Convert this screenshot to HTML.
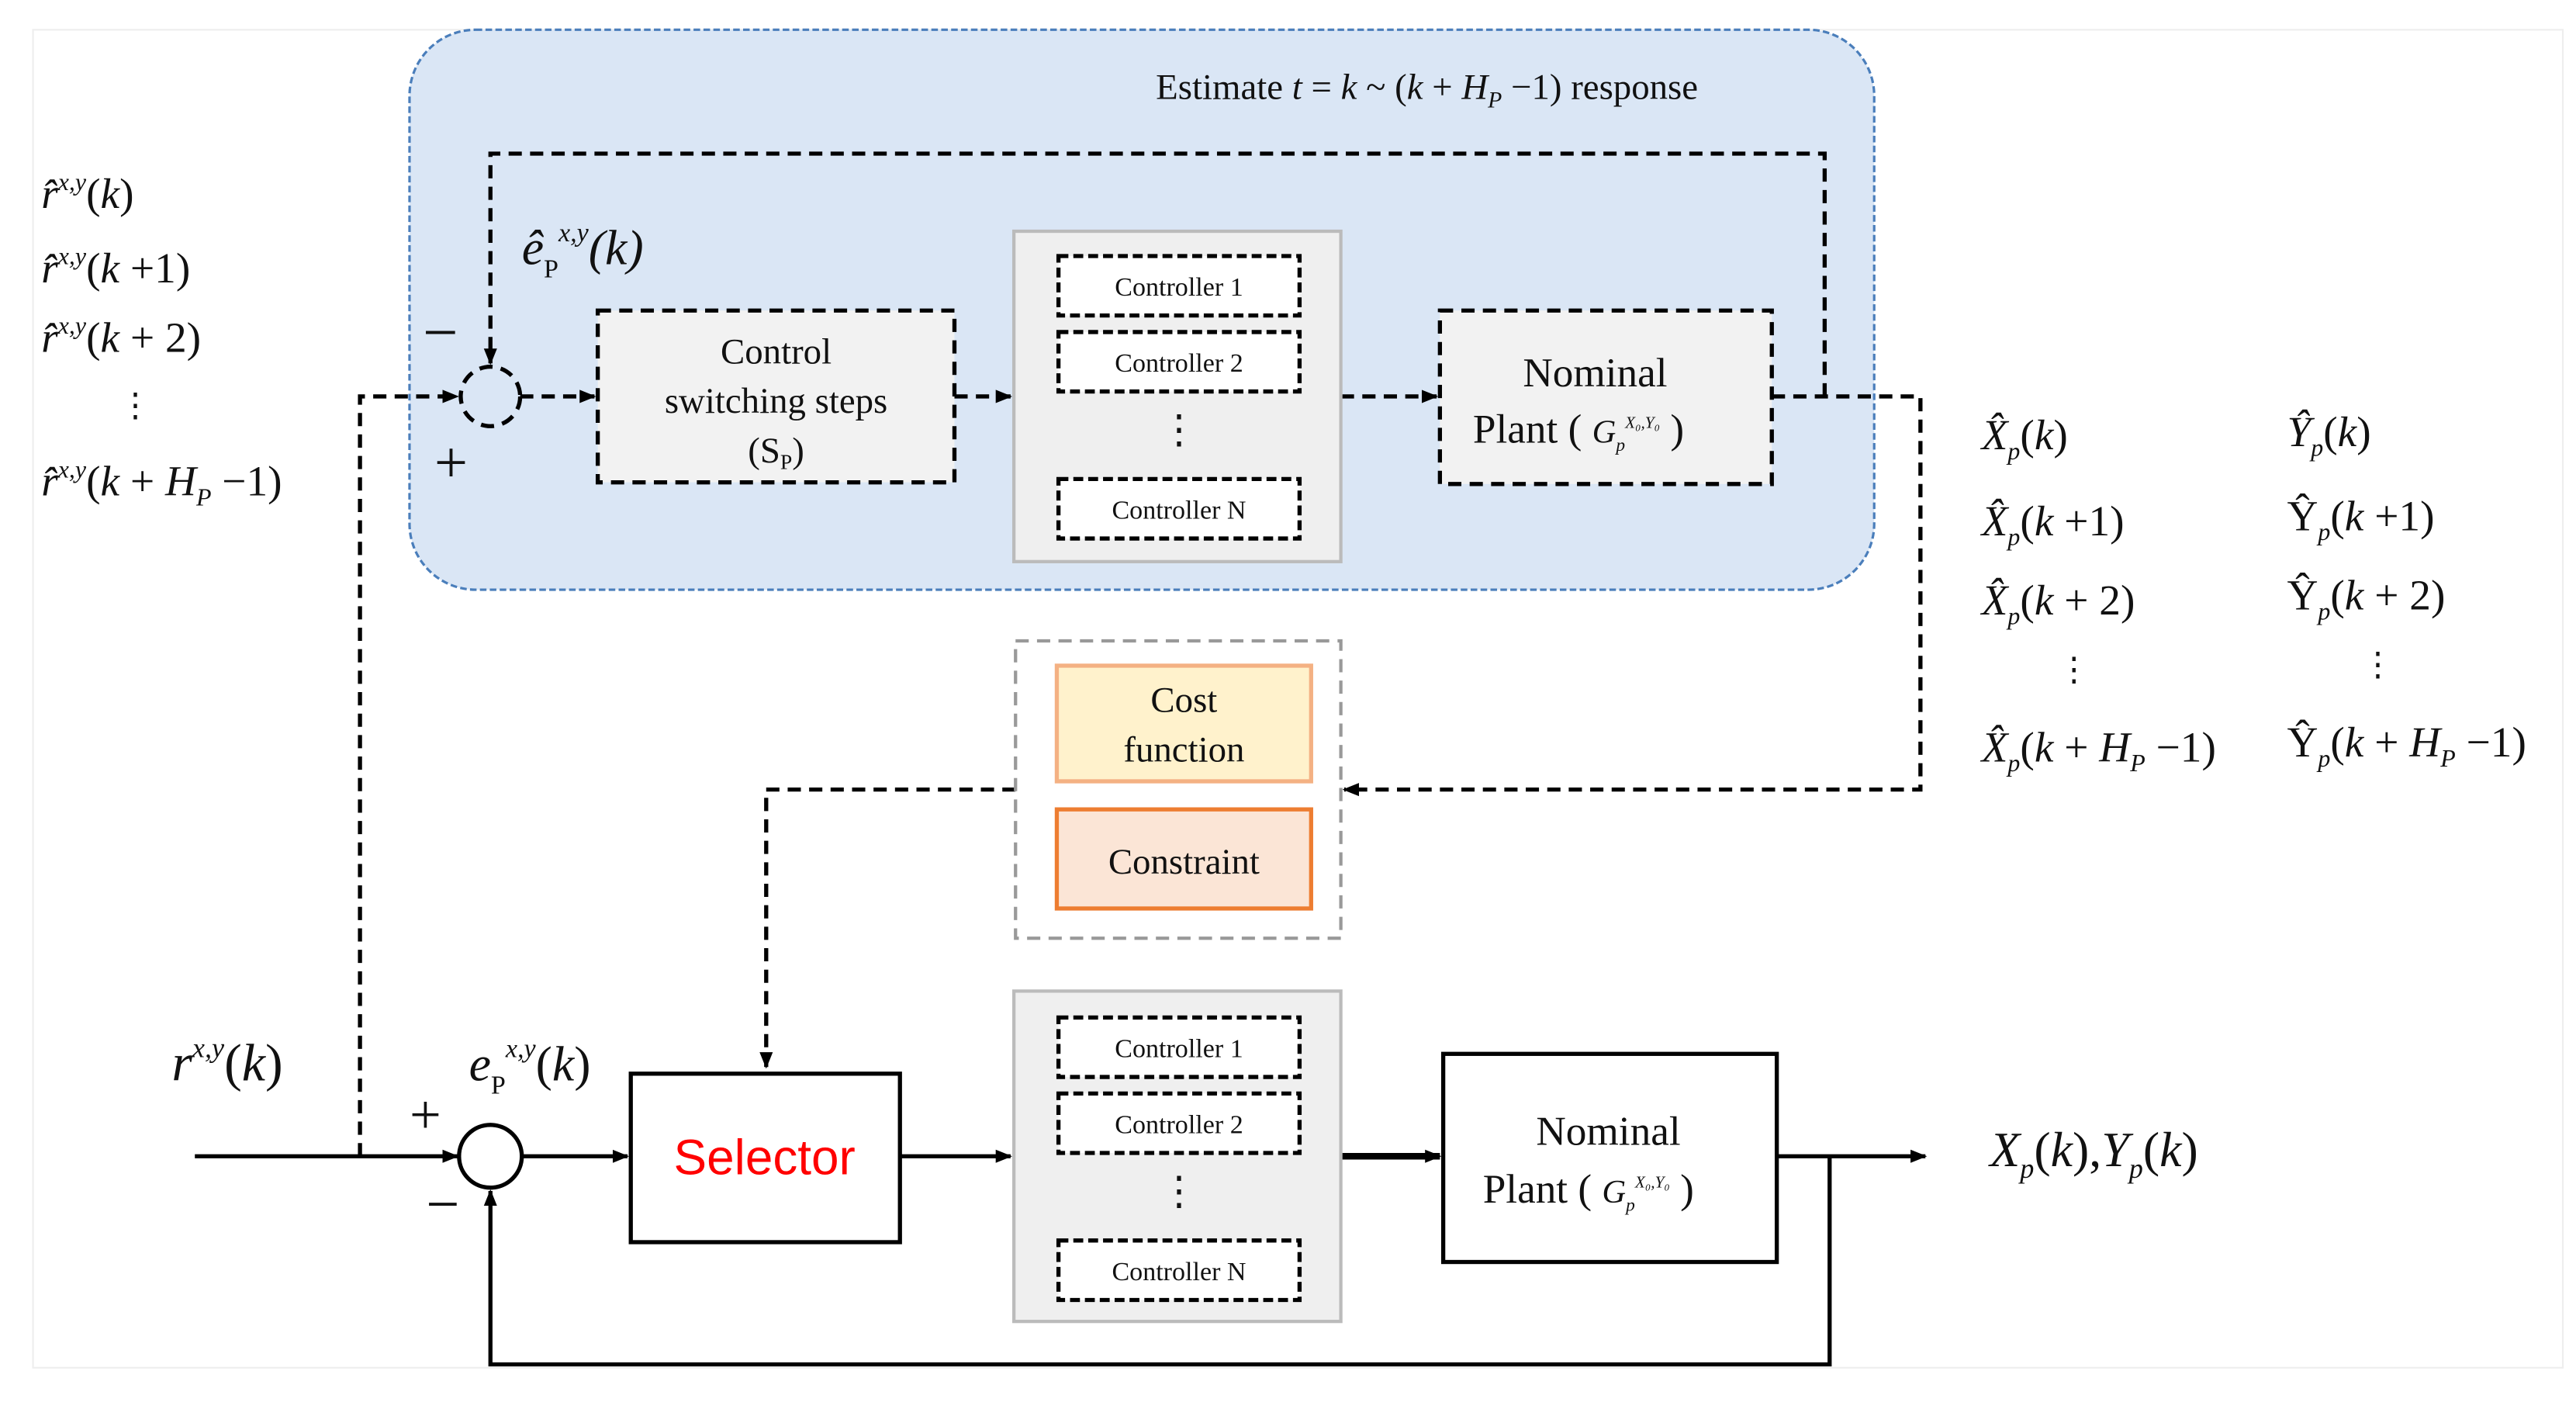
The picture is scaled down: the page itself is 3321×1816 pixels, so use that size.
<!DOCTYPE html>
<html><head><meta charset="utf-8"><style>
html,body{margin:0;padding:0;background:#fff;}
svg{display:block;}
text{font-family:"Liberation Serif",serif;fill:#111;}
.it{font-style:italic;}
.sans{font-family:"Liberation Sans",sans-serif;}
</style></head><body>
<svg width="3321" height="1816" viewBox="0 0 1560 853" preserveAspectRatio="none" xmlns="http://www.w3.org/2000/svg">
<defs>
<marker id="ah" markerWidth="10" markerHeight="10" refX="9" refY="5" orient="auto" markerUnits="userSpaceOnUse"><path d="M0,1 L10,5 L0,9 Z" fill="#000"/></marker>
</defs>
<rect x="20" y="18" width="1532" height="810" fill="#fff" stroke="#eee" stroke-width="1"/>
<rect x="248" y="18" width="887" height="339" rx="40" fill="#dae6f5" stroke="#4a7ebb" stroke-width="1.5" stroke-dasharray="4,2"/>
<text x="700" y="60" font-size="22">Estimate <tspan class="it">t</tspan> = <tspan class="it">k</tspan> ~ (<tspan class="it">k</tspan> + <tspan class="it">H</tspan><tspan class="it" font-size="14" dy="5">P</tspan><tspan dy="-5"> −1) response</tspan></text>

<g fill="none" stroke="#000" stroke-width="2.5" stroke-dasharray="8,5">
<polyline points="1105,240 1105,93 297,93 297,220" marker-end="url(#ah)"/>
<circle cx="297" cy="240" r="18"/>
<polyline points="218,700 218,240 277,240" marker-end="url(#ah)"/>
<line x1="315" y1="240" x2="360" y2="240" marker-end="url(#ah)"/>
<line x1="578" y1="240" x2="612" y2="240" marker-end="url(#ah)"/>
<line x1="812" y1="240" x2="870" y2="240" marker-end="url(#ah)"/>
<polyline points="1073,240 1163,240 1163,478 814,478" marker-end="url(#ah)"/>
<polyline points="615,478 464,478 464,646" marker-end="url(#ah)"/>
</g>
<text x="256" y="214" font-size="38">−</text>
<text x="263" y="292" font-size="36">+</text>
<text x="316" y="160" font-size="30" class="it">ê<tspan font-size="16" dy="8" font-style="normal">P</tspan><tspan font-size="16" dy="-22">x,y</tspan><tspan dy="14" font-size="30">(k)</tspan></text>

<rect x="362" y="188" width="216" height="104" fill="#f2f2f2" stroke="#000" stroke-width="2.5" stroke-dasharray="8,5"/>
<text x="470" y="220" font-size="22" text-anchor="middle">Control</text>
<text x="470" y="250" font-size="22" text-anchor="middle">switching  steps</text>
<text x="470" y="280" font-size="22" text-anchor="middle">(S<tspan font-size="13" dy="4">P</tspan><tspan dy="-4">)</tspan></text>

<g>
<rect x="614" y="140" width="198" height="200" fill="#efefef" stroke="#bbb" stroke-width="2"/>
<g fill="#fff" stroke="#000" stroke-width="2.5" stroke-dasharray="6,3">
<rect x="641" y="155" width="146" height="36"/><rect x="641" y="201" width="146" height="36"/><rect x="641" y="290" width="146" height="36"/>
</g>
<text x="714" y="179" font-size="16" text-anchor="middle">Controller 1</text>
<text x="714" y="225" font-size="16" text-anchor="middle">Controller 2</text>
<text x="714" y="314" font-size="16" text-anchor="middle">Controller N</text>
<text x="714" y="268" font-size="24" text-anchor="middle">⋮</text>
</g>

<rect x="872" y="188" width="201" height="105" fill="#f2f2f2" stroke="#000" stroke-width="2.5" stroke-dasharray="8,5"/>
<text x="966" y="234" font-size="25" text-anchor="middle">Nominal</text>
<text x="892" y="268" font-size="25">Plant ( <tspan class="it" font-size="20">G</tspan><tspan class="it" font-size="11" dy="5">p</tspan><tspan class="it" font-size="10" dy="-14">X₀,Y₀</tspan><tspan dy="9"> )</tspan></text>

<g font-size="26">
<text x="25" y="126" class="it">r̂<tspan font-size="15" dy="-11">x,y</tspan><tspan dy="11" font-style="normal">(</tspan>k<tspan font-style="normal">)</tspan></text>
<text x="25" y="171" class="it">r̂<tspan font-size="15" dy="-11">x,y</tspan><tspan dy="11" font-style="normal">(</tspan>k<tspan font-style="normal"> +1)</tspan></text>
<text x="25" y="213" class="it">r̂<tspan font-size="15" dy="-11">x,y</tspan><tspan dy="11" font-style="normal">(</tspan>k<tspan font-style="normal"> + 2)</tspan></text>
<text x="72" y="252" font-size="20">⋮</text>
<text x="25" y="300" class="it">r̂<tspan font-size="15" dy="-11">x,y</tspan><tspan dy="11" font-style="normal">(</tspan>k<tspan font-style="normal"> + </tspan>H<tspan font-size="15" dy="6">P</tspan><tspan dy="-6" font-style="normal"> −1)</tspan></text>
</g>
<g font-size="26">
<text x="1200" y="272"><tspan class="it">X̂</tspan><tspan class="it" font-size="15" dy="6">p</tspan><tspan dy="-6">(</tspan><tspan class="it">k</tspan>)</text>
<text x="1200" y="324"><tspan class="it">X̂</tspan><tspan class="it" font-size="15" dy="6">p</tspan><tspan dy="-6">(</tspan><tspan class="it">k</tspan> +1)</text>
<text x="1200" y="372"><tspan class="it">X̂</tspan><tspan class="it" font-size="15" dy="6">p</tspan><tspan dy="-6">(</tspan><tspan class="it">k</tspan> + 2)</text>
<text x="1246" y="412" font-size="20">⋮</text>
<text x="1200" y="461"><tspan class="it">X̂</tspan><tspan class="it" font-size="15" dy="6">p</tspan><tspan dy="-6">(</tspan><tspan class="it">k</tspan> + <tspan class="it">H</tspan><tspan class="it" font-size="15" dy="6">P</tspan><tspan dy="-6"> −1)</tspan></text>
<text x="1385" y="270"><tspan class="it">Ŷ</tspan><tspan class="it" font-size="15" dy="6">p</tspan><tspan dy="-6">(</tspan><tspan class="it">k</tspan>)</text>
<text x="1385" y="321">Ŷ<tspan class="it" font-size="15" dy="6">p</tspan><tspan dy="-6">(</tspan><tspan class="it">k</tspan> +1)</text>
<text x="1385" y="369">Ŷ<tspan class="it" font-size="15" dy="6">p</tspan><tspan dy="-6">(</tspan><tspan class="it">k</tspan> + 2)</text>
<text x="1430" y="409" font-size="20">⋮</text>
<text x="1385" y="458">Ŷ<tspan class="it" font-size="15" dy="6">p</tspan><tspan dy="-6">(</tspan><tspan class="it">k</tspan> + <tspan class="it">H</tspan><tspan class="it" font-size="15" dy="6">P</tspan><tspan dy="-6"> −1)</tspan></text>
</g>

<rect x="615" y="388" width="197" height="180" fill="#fff" stroke="#999" stroke-width="2" stroke-dasharray="8,5"/>
<rect x="640" y="403" width="154" height="70" fill="#fff2cc" stroke="#f4b183" stroke-width="2.5"/>
<text x="717" y="431" font-size="22" text-anchor="middle">Cost</text>
<text x="717" y="461" font-size="22" text-anchor="middle">function</text>
<rect x="640" y="490" width="154" height="60" fill="#fbe5d6" stroke="#ed7d31" stroke-width="2.5"/>
<text x="717" y="529" font-size="22" text-anchor="middle">Constraint</text>

<g fill="none" stroke="#000" stroke-width="2.5">
<line x1="118" y1="700" x2="277" y2="700" marker-end="url(#ah)"/>
<circle cx="297" cy="700" r="19"/>
<line x1="316" y1="700" x2="380" y2="700" marker-end="url(#ah)"/>
<line x1="545" y1="700" x2="612" y2="700" marker-end="url(#ah)"/>
<line x1="812" y1="700" x2="872" y2="700" stroke-width="4" marker-end="url(#ah)"/>
<line x1="1076" y1="700" x2="1166" y2="700" marker-end="url(#ah)"/>
<polyline points="1108,700 1108,826 297,826 297,721" marker-end="url(#ah)"/>
</g>
<text x="248" y="686" font-size="34">+</text>
<text x="258" y="741" font-size="36">−</text>
<text x="104" y="654" font-size="32" class="it">r<tspan font-size="17" dy="-14">x,y</tspan><tspan dy="14" font-style="normal">(</tspan>k<tspan font-style="normal">)</tspan></text>
<text x="284" y="654" font-size="30" class="it">e<tspan font-size="16" dy="8" font-style="normal">P</tspan><tspan font-size="16" dy="-22">x,y</tspan><tspan dy="14" font-size="30" font-style="normal">(</tspan><tspan font-size="30">k</tspan><tspan font-size="30" font-style="normal">)</tspan></text>

<rect x="382" y="650" width="163" height="102" fill="#fff" stroke="#000" stroke-width="2.5"/>
<text x="463" y="711" font-size="30" class="sans" text-anchor="middle" style="fill:#ff0000">Selector</text>

<rect x="614" y="600" width="198" height="200" fill="#efefef" stroke="#bbb" stroke-width="2"/>
<g fill="#fff" stroke="#000" stroke-width="2.5" stroke-dasharray="6,3">
<rect x="641" y="616" width="146" height="36"/><rect x="641" y="662" width="146" height="36"/><rect x="641" y="751" width="146" height="36"/>
</g>
<text x="714" y="640" font-size="16" text-anchor="middle">Controller 1</text>
<text x="714" y="686" font-size="16" text-anchor="middle">Controller 2</text>
<text x="714" y="775" font-size="16" text-anchor="middle">Controller N</text>
<text x="714" y="729" font-size="24" text-anchor="middle">⋮</text>

<rect x="874" y="638" width="202" height="126" fill="#fff" stroke="#000" stroke-width="2.5"/>
<text x="974" y="693" font-size="25" text-anchor="middle">Nominal</text>
<text x="898" y="728" font-size="25">Plant ( <tspan class="it" font-size="20">G</tspan><tspan class="it" font-size="11" dy="5">p</tspan><tspan class="it" font-size="10" dy="-14">X₀,Y₀</tspan><tspan dy="9"> )</tspan></text>

<text x="1205" y="706" font-size="30" class="it">X<tspan font-size="17" dy="7">p</tspan><tspan dy="-7" font-style="normal">(</tspan>k<tspan font-style="normal">),</tspan>Y<tspan font-size="17" dy="7">p</tspan><tspan dy="-7" font-style="normal">(</tspan>k<tspan font-style="normal">)</tspan></text>
</svg>
</body></html>
